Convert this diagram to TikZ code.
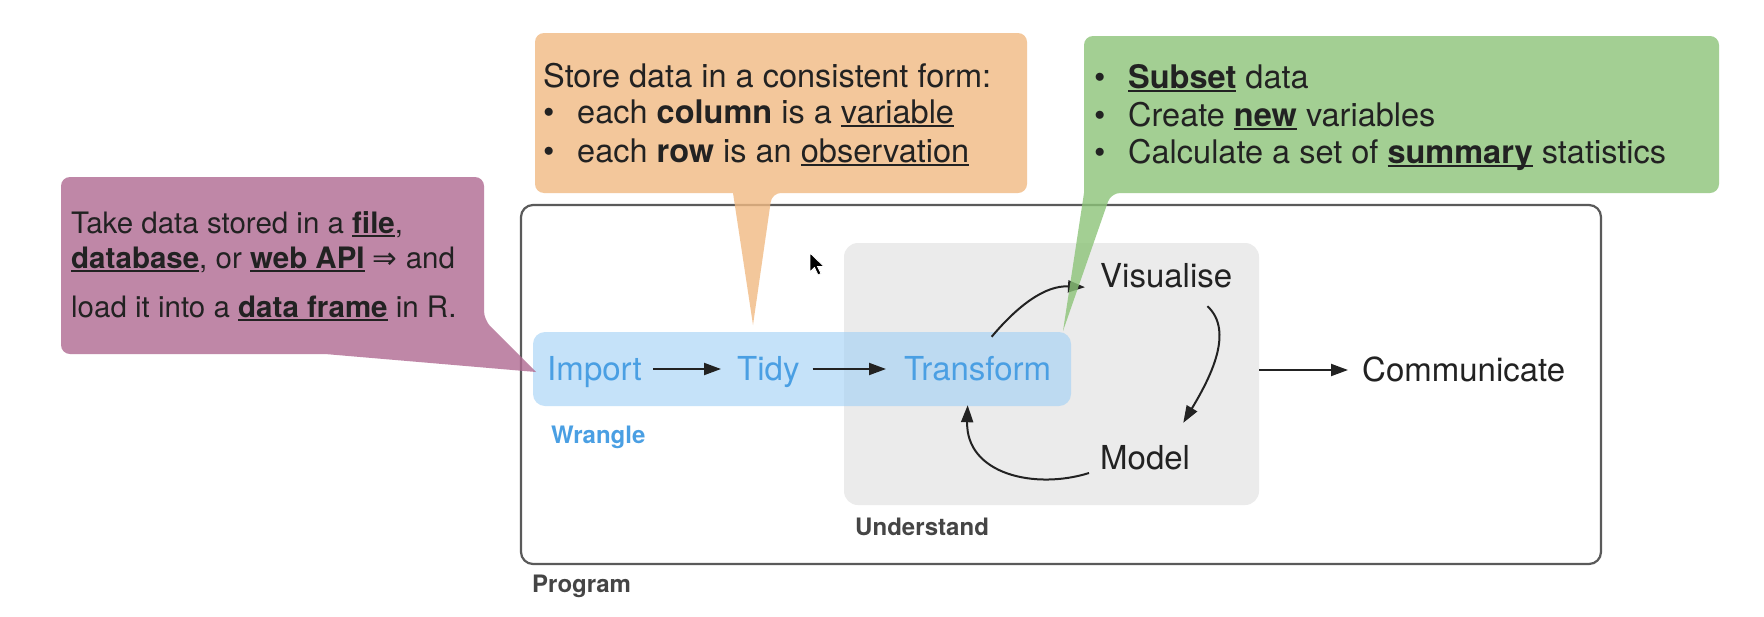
\documentclass[tikz,border=0pt]{standalone}
\usepackage{fontspec}
\setmainfont{TeX Gyre Heros}
\newfontfamily\symfont{DejaVu Sans}
\usetikzlibrary{arrows.meta,calc}
\definecolor{purplec}{HTML}{B06A92}
\definecolor{orangec}{HTML}{F1BA83}
\definecolor{greenc}{HTML}{8CC479}
\definecolor{bluebg}{HTML}{9FD0F5}
\definecolor{bluetext}{HTML}{4A9FE3}
\definecolor{graybg}{HTML}{EBEBEB}
\definecolor{progline}{HTML}{5A5A5A}
\definecolor{ink}{HTML}{222222}
\definecolor{labelgray}{HTML}{454545}
\newsavebox\ulbox
\newcommand\undl[1]{\sbox\ulbox{#1}\rlap{\rule[-4pt]{\wd\ulbox}{1.7pt}}\usebox\ulbox}
\begin{document}
\begin{tikzpicture}[x=1pt,y=-1pt,
  mainnode/.style={inner sep=0pt, anchor=base west, text height=26pt, text depth=4pt,
    font=\fontsize{33}{40}\selectfont},
  calltext/.style={inner sep=0pt, anchor=base west, text=ink, font=\fontsize{32.5}{38}\selectfont},
  calltextsmall/.style={inner sep=0pt, anchor=base west, text=ink, font=\fontsize{29.5}{36}\selectfont},
  grouplabel/.style={inner sep=0pt, anchor=base west, font=\fontsize{24}{28}\selectfont\bfseries},
  arr/.style={-{Triangle[length=17pt,width=12pt]}, line width=2pt, draw=ink},
  callout/.style={fill opacity=0.8}
]
\useasboundingbox (0,0) rectangle (1764,616);
\fill[white] (0,0) rectangle (1764,616);

% Program frame
\node[draw=progline, line width=2.2pt, rounded corners=12pt, minimum width=1080pt,
  minimum height=359pt, inner sep=0pt] (prog) at (1061,384.5) {};
% Understand area
\node[fill=graybg, rounded corners=14pt, minimum width=415pt, minimum height=262pt,
  inner sep=0pt] (und) at (1051.5,374) {};
% Wrangle area
\node[fill=bluebg, fill opacity=0.6, rounded corners=12pt, minimum width=538pt,
  minimum height=74pt, inner sep=0pt] (wr) at (802,369) {};

% group labels
\node[grouplabel, text=bluetext] (wrl) at (551,443) {Wrangle};
\node[grouplabel, text=labelgray] (undl) at (855,535) {Understand};
\node[grouplabel, text=labelgray] (progl) at (532,592) {Program};

% process nodes
\node[mainnode, text=bluetext] (imp) at (547,380) {Import};
\node[mainnode, text=bluetext] (tidy) at (737,380) {Tidy};
\node[mainnode, text=bluetext] (trans) at (904,380) {Transform};
\node[mainnode, text=ink] (vis) at (1100,287) {Visualise};
\node[mainnode, text=ink] (model) at (1100,469) {Model};
\node[mainnode, text=ink] (comm) at (1362,381) {Communicate};

% connectors
\draw[arr, shorten <=11pt, shorten >=16pt] (imp.east) -- (tidy.west);
\draw[arr, shorten <=13pt, shorten >=18pt] (tidy.east) -- (trans.west);
\draw[arr, shorten >=14pt] (comm.west -| und.east) -- (comm.west);
\draw[arr] ($(trans.north)+(14,-17)$) .. controls ($(trans.north)+(40,-48)$) and ($(vis.south west)+(-55,-6)$) .. ($(vis.south west)+(-15,-4)$);
\draw[arr] ($(vis.south east)+(-25,15)$) .. controls ($(vis.south east)+(2,40)$) and ($(model.north east)+(20,-65)$) .. ($(model.north east)+(-7,-20)$);
\draw[arr] ($(model.west)+(-11,15)$) .. controls ($(model.west)+(-65,32)$) and ($(trans.south)+(-12,90)$) .. ($(trans.south)+(-10,21)$);

% callouts
\fill[purplec, callout] (61,177) [rounded corners=9pt] -- (484,177) -- (484,320) [sharp corners] -- (536,372) -- (325,354) [rounded corners=9pt] -- (61,354) -- cycle;
\fill[orangec, callout] (535,33) [rounded corners=9pt] -- (1027,33) -- (1027,193) -- (772,193) [sharp corners] -- (753,325) -- (733,193) [rounded corners=9pt] -- (535,193) -- cycle;
\fill[greenc, callout] (1084,193) [rounded corners=9pt] -- (1084,36) -- (1719,36) -- (1719,193) -- (1111,193) [sharp corners] -- (1063,331) -- cycle;

% callout texts
\node[calltextsmall] (p1) at (71,233) {Take data stored in a \undl{\textbf{file}},};
\node[calltextsmall] (p2) at (71,268) {\undl{\textbf{database}}, or \undl{\textbf{web API}} {\symfont ⇒} and};
\node[calltextsmall] (p3) at (71,317) {load it into a \undl{\textbf{data frame}} in R.};

\node[calltext] (o1) at (543,87) {Store data in a consistent form:};
\node[calltext] (o2) at (543,123) {\makebox[34pt][l]{•}each \textbf{column} is a \undl{variable}};
\node[calltext] (o3) at (543,162) {\makebox[34pt][l]{•}each \textbf{row} is an \undl{observation}};

\node[calltext] (g1) at (1094,88) {\makebox[34pt][l]{•}\undl{\textbf{Subset}} data};
\node[calltext] (g2) at (1094,126) {\makebox[34pt][l]{•}Create \undl{\textbf{new}} variables};
\node[calltext] (g3) at (1094,163) {\makebox[34pt][l]{•}Calculate a set of \undl{\textbf{summary}} statistics};

% mouse cursor
\filldraw[fill=black, draw=white, line width=0.8pt] (810,253) -- (810,272) -- (814.5,267.5) -- (818,275) -- (821,273.5) -- (817.5,266.5) -- (824,266.5) -- cycle;
\end{tikzpicture}
\end{document}
